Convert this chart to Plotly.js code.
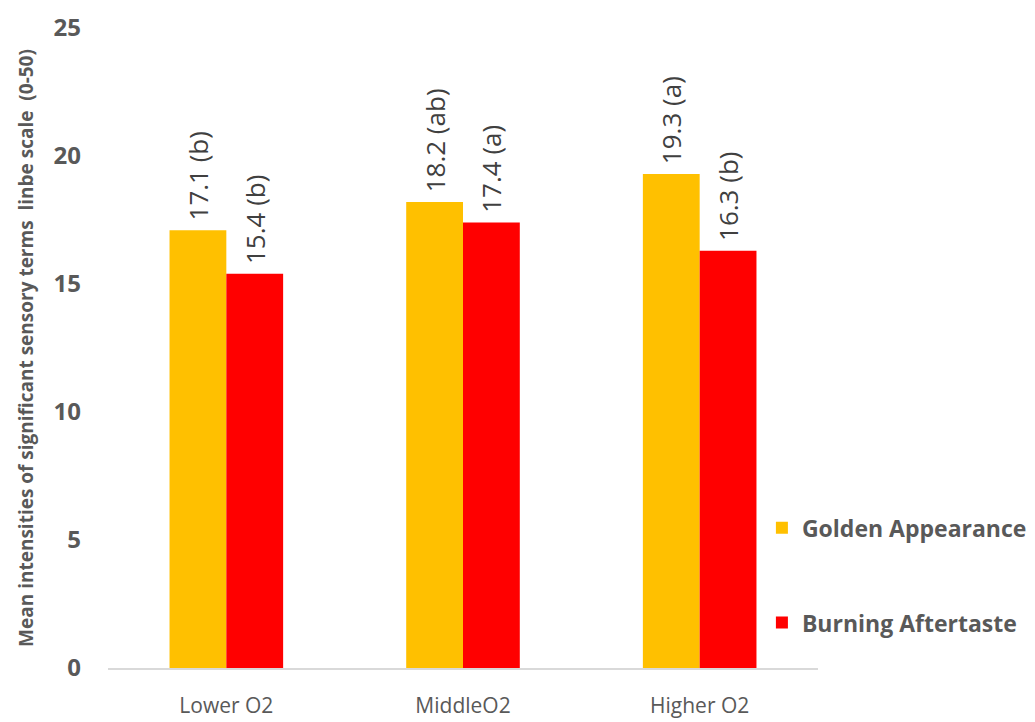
<!DOCTYPE html>
<html>
<head>
<meta charset="utf-8">
<script src="https://cdn.plot.ly/plotly-3.0.1.min.js"></script>
<style>html,body{margin:0;padding:0;background:#fff;}#chart{width:1035px;height:722px;}</style>
</head>
<body>
<div id="chart"></div>
<script>
const categories = ["Lower O2", "MiddleO2", "Higher O2"];
const golden = [17.1, 18.2, 19.3];
const goldenLetters = ["b", "ab", "a"];
const burning = [15.4, 17.4, 16.3];
const burningLetters = ["b", "a", "b"];
const seriesNames = ["Golden Appearance", "Burning Aftertaste"];

const FONT = "Open Sans, Liberation Sans, sans-serif";
const TXT = "#595959";

function labels(vals, letters) {
  return vals.map((v, i) => " " + v.toFixed(1) + " (" + letters[i] + ")");
}

const common = {
  type: "bar",
  x: categories,
  textposition: "outside",
  textangle: -90,
  constraintext: "none",
  cliponaxis: false,
  outsidetextfont: {family: FONT, size: 26, color: "#404040"},
  hoverinfo: "skip"
};

const data = [
  Object.assign({}, common, {
    name: seriesNames[0], legendgroup: "g1", y: golden, text: labels(golden, goldenLetters),
    marker: {color: "#FFC000"}
  }),
  Object.assign({}, common, {
    name: seriesNames[1], legendgroup: "g2", y: burning, text: labels(burning, burningLetters),
    marker: {color: "#FF0000"}
  })
];

const layout = {
  width: 1035, height: 722,
  margin: {l: 108, r: 217, t: 28, b: 54, autoexpand: false},
  paper_bgcolor: "#fff", plot_bgcolor: "#fff",
  barmode: "group", bargap: 0.52, bargroupgap: 0,
  font: {family: FONT, color: TXT},
  xaxis: {
    showline: true, linecolor: "#d9d9d9", linewidth: 1.5,
    ticks: "", ticklabelstandoff: 18,
    tickfont: {family: FONT, size: 21, color: TXT},
    showgrid: false, zeroline: false
  },
  yaxis: {
    range: [0, 25], dtick: 5, showgrid: false, zeroline: false, showline: false,
    ticks: "", ticklabelstandoff: 26,
    tickfont: {family: FONT, size: 24, color: TXT, weight: "bold"},
    title: {text: "Mean intensities of significant sensory terms  linbe scale  (0-50)",
      font: {family: FONT, size: 19, color: TXT, weight: "bold"}, standoff: 14}
  },
  legend: {
    x: 0.921, xanchor: "left", y: 0.145, yanchor: "middle",
    font: {family: FONT, size: 23, color: TXT, weight: "bold"},
    tracegroupgap: 62, bgcolor: "rgba(0,0,0,0)"
  },
  showlegend: true
};

Plotly.newPlot("chart", data, layout, {displayModeBar: false, staticPlot: true});
</script>
</body>
</html>
